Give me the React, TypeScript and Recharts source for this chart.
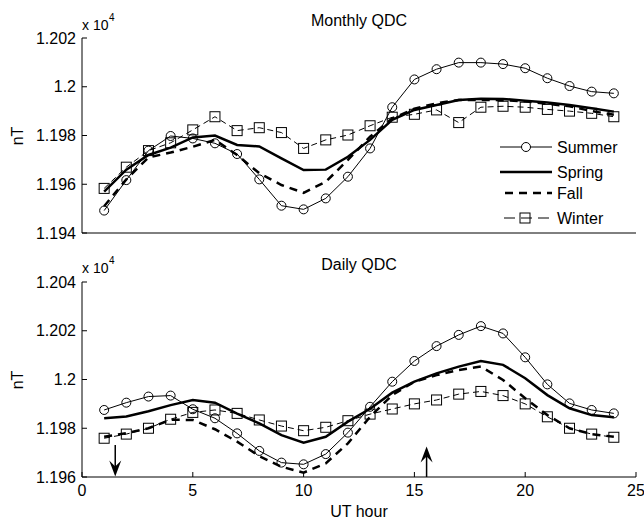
import React from "react";
import { LineChart, Line, XAxis, YAxis, ReferenceLine } from "recharts";

const hours = [1, 2, 3, 4, 5, 6, 7, 8, 9, 10, 11, 12, 13, 14, 15, 16, 17, 18, 19, 20, 21, 22, 23, 24];

// Monthly QDC (x 10^4 nT)
const summerMonthly = [1.19492, 1.19617, 1.19738, 1.19798, 1.19788, 1.19768, 1.19724, 1.1962, 1.19512, 1.19497, 1.19542, 1.19631, 1.19747, 1.19916, 1.2003, 1.20072, 1.20099, 1.20099, 1.20093, 1.20076, 1.20035, 1.20003, 1.1998, 1.19973];
const springMonthly = [1.1957, 1.1966, 1.1972, 1.1975, 1.19792, 1.198, 1.19761, 1.19755, 1.19706, 1.19658, 1.1966, 1.19713, 1.19782, 1.19864, 1.19905, 1.19925, 1.19946, 1.19951, 1.1995, 1.19943, 1.19935, 1.19925, 1.19912, 1.19898];
const fallMonthly = [1.1951, 1.1962, 1.1971, 1.1973, 1.19754, 1.19782, 1.1972, 1.19645, 1.19597, 1.19565, 1.1961, 1.197, 1.19795, 1.1987, 1.1991, 1.19932, 1.19946, 1.19946, 1.19945, 1.1994, 1.1993, 1.1992, 1.199, 1.19885];
const winterMonthly = [1.19583, 1.1967, 1.19738, 1.1977, 1.19823, 1.19877, 1.1982, 1.19832, 1.19812, 1.19747, 1.19782, 1.19802, 1.1984, 1.19875, 1.19887, 1.19905, 1.19853, 1.19916, 1.1992, 1.19916, 1.19907, 1.199, 1.19891, 1.19877];

// Daily QDC (x 10^4 nT)
const summerDaily = [1.19875, 1.19905, 1.1993, 1.19934, 1.19878, 1.19841, 1.19779, 1.19707, 1.19659, 1.19652, 1.19694, 1.19782, 1.19888, 1.19991, 1.20076, 1.20137, 1.20183, 1.20219, 1.20189, 1.20091, 1.1998, 1.19902, 1.19875, 1.19861];
const springDaily = [1.19841, 1.19848, 1.1987, 1.19895, 1.19916, 1.19905, 1.1986, 1.1982, 1.19772, 1.19741, 1.19765, 1.19827, 1.1988, 1.19946, 1.19991, 1.20025, 1.20053, 1.20076, 1.2006, 1.20005, 1.19936, 1.19882, 1.19854, 1.19845];
const fallDaily = [1.19765, 1.1978, 1.198, 1.19835, 1.19834, 1.19796, 1.19745, 1.19686, 1.19642, 1.19618, 1.19656, 1.19738, 1.19847, 1.19936, 1.19991, 1.20018, 1.20039, 1.20053, 1.19998, 1.19923, 1.19854, 1.198, 1.19776, 1.19765];
const winterDaily = [1.19759, 1.19776, 1.198, 1.19837, 1.19865, 1.19875, 1.19861, 1.19834, 1.19809, 1.1979, 1.19804, 1.19831, 1.19858, 1.19879, 1.199, 1.19916, 1.1994, 1.19951, 1.19934, 1.199, 1.19847, 1.198, 1.19776, 1.19763];

const xTicks = [0, 5, 10, 15, 20, 25];
const monthlyTicks = [1.194, 1.196, 1.198, 1.2, 1.202];
const dailyTicks = [1.196, 1.198, 1.2, 1.202, 1.204];

// arrows marked on the daily panel: [hour, from, to]
const arrowMarks = [
  [1.5, 1.19731, 1.19602],
  [15.55, 1.196, 1.19725],
];

const monthlyRows = hours.map((h, i) => ({
  hour: h,
  summer: summerMonthly[i],
  spring: springMonthly[i],
  fall: fallMonthly[i],
  winter: winterMonthly[i],
}));

const dailyRows = hours.map((h, i) => ({
  hour: h,
  summer: summerDaily[i],
  spring: springDaily[i],
  fall: fallDaily[i],
  winter: winterDaily[i],
}));

const FONT = "'Liberation Sans', Arial, Helvetica, sans-serif";
const fmt = (v: number) => String(parseFloat(v.toFixed(3)));

const CircleDot = (p: any) => (
  <circle key={`c${p.index}`} cx={p.cx} cy={p.cy} r={4.5} fill="none" stroke="#000" strokeWidth={1} />
);
const SquareDot = (p: any) => (
  <rect key={`s${p.index}`} x={p.cx - 5} y={p.cy - 5} width={10} height={10} fill="none" stroke="#000" strokeWidth={1} />
);

const ArrowShape = (p: any) => {
  const { x1, y1, x2, y2 } = p;
  const dir = y2 > y1 ? 1 : -1;
  return (
    <g>
      <line x1={x1} y1={y1} x2={x2} y2={y2 - dir * 8} stroke="#000" strokeWidth={1.5} />
      <polygon
        points={`${x2},${y2} ${x2 - 6},${y2 - dir * 16} ${x2},${y2 - dir * 10} ${x2 + 6},${y2 - dir * 16}`}
        fill="#000"
      />
    </g>
  );
};

function Panel({ rows, ticks, height, top, bottom, showX, arrows }: any) {
  const domain = [ticks[0], ticks[ticks.length - 1]];
  return (
    <LineChart width={644} height={height} data={rows} margin={{ top, right: 8, bottom: 0, left: 22 }}>
      <XAxis
        dataKey="hour"
        type="number"
        domain={[0, 25]}
        ticks={xTicks}
        allowDataOverflow
        height={bottom}
        tick={showX ? { fontSize: 16, fill: "#000" } : false}
        tickSize={-5}
        tickMargin={13}
        axisLine={{ stroke: "#000" }}
        tickLine={{ stroke: "#000" }}
      />
      <XAxis
        xAxisId="top"
        orientation="top"
        type="number"
        domain={[0, 25]}
        ticks={xTicks}
        height={0}
        tick={false}
        tickSize={-5}
        axisLine={{ stroke: "#000" }}
        tickLine={{ stroke: "#000" }}
      />
      <YAxis
        type="number"
        domain={domain}
        ticks={ticks}
        allowDataOverflow
        width={60}
        tickFormatter={fmt}
        tick={{ fontSize: 16, fill: "#000" }}
        tickSize={-5}
        tickMargin={11}
        axisLine={{ stroke: "#000" }}
        tickLine={{ stroke: "#000" }}
      />
      <YAxis
        yAxisId="r"
        orientation="right"
        type="number"
        domain={domain}
        ticks={ticks}
        width={0}
        tick={false}
        tickSize={-5}
        axisLine={{ stroke: "#000" }}
        tickLine={{ stroke: "#000" }}
      />
      <Line dataKey="spring" stroke="#000" strokeWidth={2.5} dot={false} isAnimationActive={false} />
      <Line dataKey="fall" stroke="#000" strokeWidth={2.5} strokeDasharray="8 6" dot={false} isAnimationActive={false} />
      <Line dataKey="summer" stroke="#000" strokeWidth={1} dot={CircleDot} isAnimationActive={false} />
      <Line dataKey="winter" stroke="#000" strokeWidth={1} strokeDasharray="6 4" dot={SquareDot} isAnimationActive={false} />
      {arrows &&
        arrows.map((a: number[], i: number) => (
          <ReferenceLine
            key={i}
            segment={[{ x: a[0], y: a[1] }, { x: a[0], y: a[2] }]}
            shape={ArrowShape}
            ifOverflow="visible"
          />
        ))}
    </LineChart>
  );
}

export default function App() {
  return (
    <div style={{ position: "absolute", left: 0, top: 0, width: 644, height: 521, background: "#fff", fontFamily: FONT }}>
      <div style={{ position: "absolute", left: 0, top: 0 }}>
        <Panel rows={monthlyRows} ticks={monthlyTicks} height={260} top={38} bottom={27} showX={false} />
      </div>
      <div style={{ position: "absolute", left: 0, top: 260 }}>
        <Panel rows={dailyRows} ticks={dailyTicks} height={261} top={22} bottom={44} showX={true} arrows={arrowMarks} />
      </div>
      <svg width={644} height={521} style={{ position: "absolute", left: 0, top: 0, pointerEvents: "none", fontFamily: FONT }}>
        <text x={359} y={26} textAnchor="middle" fontSize={16}>Monthly QDC</text>
        <text x={359} y={270} textAnchor="middle" fontSize={16}>Daily QDC</text>
        <text x={82} y={30} fontSize={14}>x 10</text>
        <text x={109} y={21} fontSize={10}>4</text>
        <text x={82} y={273} fontSize={14}>x 10</text>
        <text x={109} y={264} fontSize={10}>4</text>
        <text transform="translate(23,136) rotate(-90)" textAnchor="middle" fontSize={16}>nT</text>
        <text transform="translate(23,380) rotate(-90)" textAnchor="middle" fontSize={16}>nT</text>
        <text x={359} y={517} textAnchor="middle" fontSize={16}>UT hour</text>
        {/* legend */}
        <line x1={500} y1={147} x2={552} y2={147} stroke="#000" strokeWidth={1} />
        <circle cx={526} cy={147} r={4.5} fill="#fff" stroke="#000" />
        <text x={557} y={153} fontSize={16}>Summer</text>
        <line x1={500} y1={172} x2={552} y2={172} stroke="#000" strokeWidth={2.5} />
        <text x={557} y={178} fontSize={16}>Spring</text>
        <line x1={505} y1={193} x2={552} y2={193} stroke="#000" strokeWidth={2.5} strokeDasharray="8 6" />
        <text x={557} y={199} fontSize={16}>Fall</text>
        <line x1={504} y1={218} x2={552} y2={218} stroke="#000" strokeWidth={1} strokeDasharray="11 6" />
        <rect x={520} y={213} width={10} height={10} fill="none" stroke="#000" />
        <text x={557} y={224} fontSize={16}>Winter</text>
      </svg>
    </div>
  );
}
